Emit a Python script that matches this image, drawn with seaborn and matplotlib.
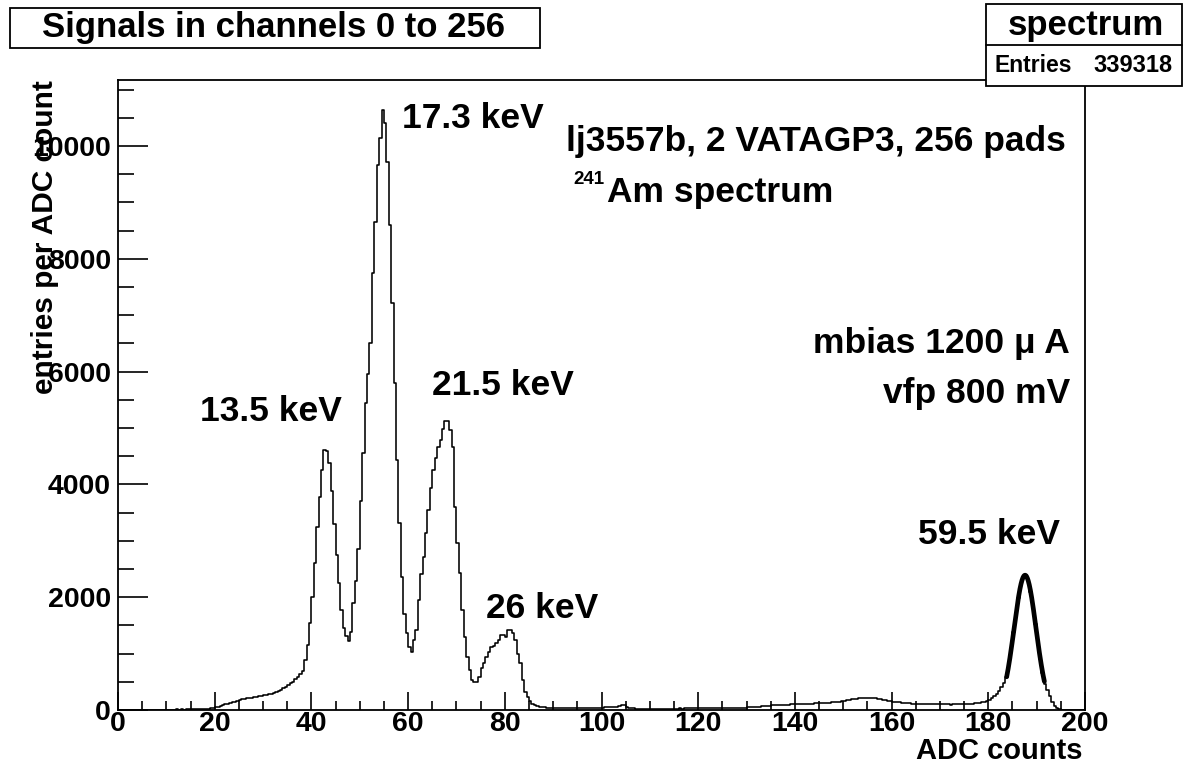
import numpy as np
import matplotlib
matplotlib.use("Agg")
import matplotlib.pyplot as plt
import matplotlib.patches as mpatches
import matplotlib.lines as mlines
from matplotlib.ticker import MultipleLocator
import seaborn as sns
import pandas as pd

# ---------------- data (bin width 0.5 ADC, 0..200) ----------------
counts_000_020 = [0, 1, 0, 2, 1, 0, 3, 1, 2, 0, 2, 3, 1, 4, 2, 3, 5, 2, 4, 3,
                  6, 4, 8, 5, 9, 7, 11, 8, 12, 10, 14, 12, 16, 15, 19, 18, 22, 26, 31, 38]
counts_020_040 = [48, 60, 72, 85, 98, 112, 125, 138, 150, 162, 176, 190, 198, 204, 212, 220, 226, 234, 242, 250,
                  262, 272, 282, 292, 305, 320, 340, 362, 388, 415, 445, 475, 505, 545, 590, 630, 690, 880, 1150, 1550]
counts_040_060 = [2000, 2600, 3250, 3780, 4250, 4610, 4600, 4380, 3880, 3300, 2750, 2250, 1780, 1460, 1320, 1220, 1380, 1900, 2280, 2850,
                  3700, 4550, 5450, 5950, 6500, 7750, 8660, 9660, 10140, 10640, 10400, 9720, 8600, 7210, 5800, 4430, 3310, 2360, 1710, 1360]
counts_060_080 = [1120, 1030, 1240, 1420, 1950, 2420, 2720, 3130, 3550, 3930, 4255, 4460, 4670, 4790, 4990, 5130, 5120, 4965, 4670, 3600,
                  2955, 2430, 1770, 1300, 945, 710, 530, 500, 490, 590, 740, 830, 945, 1035, 1120, 1135, 1180, 1240, 1330, 1330]
counts_080_100 = [1300, 1420, 1420, 1360, 1240, 1000, 830, 530, 325, 235, 160, 110, 80, 65, 55, 50, 46, 44, 42, 40,
                  40, 38, 37, 36, 35, 35, 34, 36, 33, 32, 34, 35, 33, 36, 38, 37, 39, 40, 42, 43]
counts_100_120 = [44, 46, 45, 48, 47, 50, 55, 75, 88, 82, 55, 40, 30, 27, 25, 24, 25, 23, 24, 22,
                  23, 22, 24, 21, 23, 22, 24, 25, 23, 26, 24, 25, 27, 26, 28, 27, 29, 28, 30, 29]
counts_120_140 = [31, 30, 32, 33, 31, 34, 33, 35, 34, 36, 35, 37, 36, 38, 37, 40, 39, 41, 43, 42,
                  45, 47, 50, 53, 56, 60, 64, 68, 72, 76, 80, 83, 86, 88, 90, 92, 94, 96, 98, 100]
counts_140_160 = [100, 102, 104, 106, 108, 110, 112, 114, 116, 118, 120, 122, 125, 128, 132, 136, 140, 145, 150, 155,
                  165, 172, 180, 188, 195, 200, 204, 207, 209, 210, 211, 210, 208, 204, 195, 188, 180, 172, 165, 158]
counts_160_180 = [150, 145, 140, 135, 130, 126, 122, 118, 115, 112, 110, 108, 106, 104, 103, 102, 101, 100, 100, 99,
                  98, 99, 100, 98, 97, 99, 100, 101, 100, 102, 103, 106, 110, 114, 118, 122, 128, 135, 145, 160]
counts_180_200 = [185, 210, 245, 290, 340, 400, 470, 590, 800, 1090, 1390, 1720, 1990, 2240, 2350, 2390, 2300, 2090, 1840, 1520,
                  1200, 910, 650, 460, 360, 240, 140, 75, 40, 15, 8, 4, 2, 1, 0, 0, 0, 0, 0, 0]

bin_width = 0.5
x_min, x_max = 0, 200

# Gaussian fit of the 59.5 keV line
fit_constant = 2390
fit_mean = 187.6
fit_sigma = 2.27
fit_range = (183.8, 191.6)

entries = 339318
x_ticks_major = [0, 20, 40, 60, 80, 100, 120, 140, 160, 180, 200]
y_ticks_major = [0, 2000, 4000, 6000, 8000, 10000]
y_max = 11170

labels_peaks = ["13.5 keV", "17.3 keV", "21.5 keV", "26 keV", "59.5 keV"]

# ---------------- build ----------------
counts = np.array(counts_000_020 + counts_020_040 + counts_040_060 + counts_060_080 +
                  counts_080_100 + counts_100_120 + counts_120_140 + counts_140_160 +
                  counts_160_180 + counts_180_200, dtype=float)
n_bins = len(counts)
centers = x_min + bin_width * (np.arange(n_bins) + 0.5)
df = pd.DataFrame({"adc": centers, "n": counts})

sns.set_theme(style="ticks")
plt.rcParams["font.family"] = ["Liberation Sans", "DejaVu Sans"]
plt.rcParams["font.weight"] = "bold"
plt.rcParams["text.color"] = "black"
plt.rcParams["axes.labelcolor"] = "black"
plt.rcParams["xtick.color"] = "black"
plt.rcParams["ytick.color"] = "black"

W, H = 1184, 770
fig = plt.figure(figsize=(W / 100, H / 100), dpi=100)
fig.patch.set_facecolor("white")

def fx(px):
    return px / W

def fy(py):
    return 1 - py / H

ax = fig.add_axes([fx(118), fy(710), fx(1085) - fx(118), fy(80) - fy(710)])
ax.set_facecolor("white")

sns.histplot(data=df, x="adc", weights="n", binwidth=bin_width, binrange=(x_min, x_max),
             element="step", fill=False, color="black", linewidth=1.15, ax=ax)

xf = np.linspace(fit_range[0], fit_range[1], 200)
yf = fit_constant * np.exp(-0.5 * ((xf - fit_mean) / fit_sigma) ** 2)
sns.lineplot(x=xf, y=yf, color="black", linewidth=3.4, ax=ax)

ax.set_xlim(x_min, x_max)
ax.set_ylim(0, y_max)
ax.set_xticks(x_ticks_major)
ax.set_yticks(y_ticks_major)
ax.xaxis.set_minor_locator(MultipleLocator(5))
ax.yaxis.set_minor_locator(MultipleLocator(500))
ax.tick_params(axis="x", which="major", direction="in", length=13, width=1.2, pad=1,
               labelsize=20.5, top=False, colors="black")
ax.tick_params(axis="x", which="minor", direction="in", length=6.5, width=1.2, top=False, colors="black")
ax.tick_params(axis="y", which="major", direction="in", length=21.5, width=1.2, pad=5,
               labelsize=20.5, right=False, colors="black")
ax.tick_params(axis="y", which="minor", direction="in", length=11.5, width=1.2, right=False, colors="black")
for lab in ax.get_xticklabels() + ax.get_yticklabels():
    lab.set_fontweight("bold")
for s in ax.spines.values():
    s.set_visible(True)
    s.set_color("black")
    s.set_linewidth(1.3)
ax.set_xlabel("")
ax.set_ylabel("")
ax.grid(False)

ANN = 25.5

# axis titles
fig.text(fx(1083), fy(751), "ADC counts", ha="right", va="center", fontsize=21, fontweight="bold")
fig.text(fx(45), fy(80), "entries per ADC count", ha="center", va="top", rotation=90,
         fontsize=21.5, fontweight="bold")

# title box
fig.patches.append(mpatches.Rectangle((fx(10), fy(48)), fx(540) - fx(10), fy(8) - fy(48),
                                      transform=fig.transFigure, fill=True, facecolor="white",
                                      edgecolor="black", linewidth=1.3))
fig.text(fx(273), fy(28), "Signals in channels 0 to 256", ha="center", va="center",
         fontsize=25, fontweight="bold")

# stats box
fig.patches.append(mpatches.Rectangle((fx(986), fy(86)), fx(1182) - fx(986), fy(4) - fy(86),
                                      transform=fig.transFigure, fill=True, facecolor="white",
                                      edgecolor="black", linewidth=1.3, zorder=5))
fig.lines.append(mlines.Line2D([fx(986), fx(1182)], [fy(45), fy(45)], transform=fig.transFigure,
                               color="black", linewidth=1.3, zorder=6))
fig.text(fx(1086), fy(25), "spectrum", ha="center", va="center", fontsize=25, fontweight="bold", zorder=7)
fig.text(fx(995), fy(65), "Entries", ha="left", va="center", fontsize=16.5, fontweight="bold", zorder=7)
fig.text(fx(1173), fy(65), f"{entries}", ha="right", va="center", fontsize=17, fontweight="bold", zorder=7)

# annotations
fig.text(fx(402), fy(118), labels_peaks[1], ha="left", va="center", fontsize=ANN, fontweight="bold")
fig.text(fx(566), fy(142), "lj3557b, 2 VATAGP3, 256 pads", ha="left", va="center", fontsize=ANN, fontweight="bold")
fig.text(fx(604), fy(180), "241", ha="right", va="center", fontsize=13.5, fontweight="bold")
fig.text(fx(607), fy(193), "Am spectrum", ha="left", va="center", fontsize=ANN, fontweight="bold")
fig.text(fx(1070), fy(343), "mbias 1200 μ A", ha="right", va="center", fontsize=ANN, fontweight="bold")
fig.text(fx(1070), fy(393), "vfp 800 mV", ha="right", va="center", fontsize=ANN, fontweight="bold")
fig.text(fx(200), fy(412), labels_peaks[0], ha="left", va="center", fontsize=ANN, fontweight="bold")
fig.text(fx(432), fy(386), labels_peaks[2], ha="left", va="center", fontsize=ANN, fontweight="bold")
fig.text(fx(486), fy(608), labels_peaks[3], ha="left", va="center", fontsize=ANN, fontweight="bold")
fig.text(fx(918), fy(535), labels_peaks[4], ha="left", va="center", fontsize=ANN, fontweight="bold")

fig.savefig("out.png", dpi=100, facecolor="white")
